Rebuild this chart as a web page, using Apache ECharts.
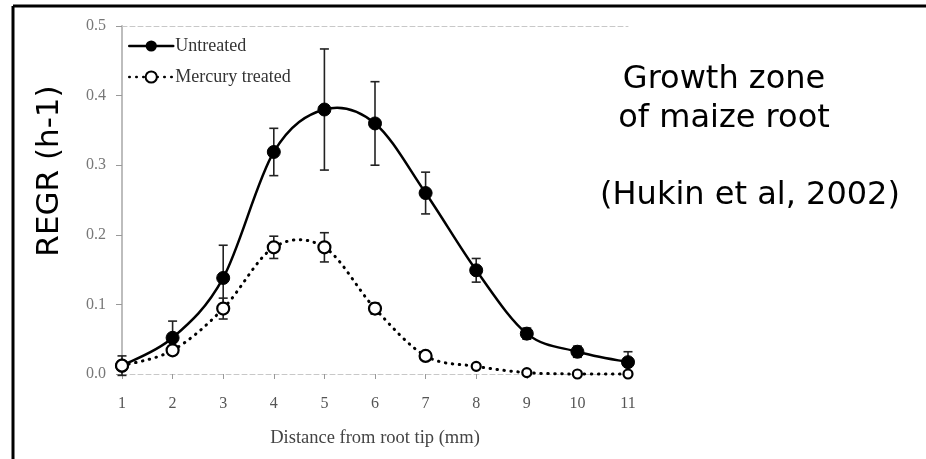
<!DOCTYPE html>
<html>
<head>
<meta charset="utf-8">
<script src="https://cdn.jsdelivr.net/npm/echarts@6/dist/echarts.min.js"></script>
<style>
  html, body { margin: 0; padding: 0; background: #fff; }
  #chart { width: 926px; height: 459px; }
</style>
</head>
<body>
<div id="chart"></div>
<script>
// Distance from root tip (mm)
const distance = [1, 2, 3, 4, 5, 6, 7, 8, 9, 10, 11];
const xTicks = [1, 2, 3, 4, 5, 6, 7, 8, 9, 10, 11];
const yTicks = [0.0, 0.1, 0.2, 0.3, 0.4, 0.5];

// Relative elemental growth rate, h-1
const untreated    = [0.012, 0.052, 0.138, 0.319, 0.380, 0.360, 0.260, 0.149, 0.058, 0.032, 0.017];
const untreatedErr = [0.014, 0.024, 0.047, 0.034, 0.087, 0.060, 0.030, 0.017, 0.008, 0.008, 0.015];
const mercury      = [0.012, 0.034, 0.094, 0.182, 0.182, 0.094, 0.026, 0.011, 0.002, 0.000, 0.000];
const mercuryErr   = [0.006, 0.006, 0.015, 0.016, 0.021, 0.008, 0.004, 0.003, 0.000, 0.000, 0.000];

const seriesNames = ['Untreated', 'Mercury treated'];
const annotations = ['Growth zone', 'of maize root', '(Hukin et al, 2002)'];
const yAxisTitle = 'REGR (h-1)';
const xAxisTitle = 'Distance from root tip (mm)';

const pairs = (ys) => distance.map((x, i) => [x, ys[i]]);
const bars = (ys, es) => distance
  .map((x, i) => [x, ys[i] - es[i], ys[i] + es[i]])
  .filter((d, i) => es[i] > 0);

const serif = '"Liberation Serif", "DejaVu Serif", serif';
const hand = '"DejaVu Sans", "Noto Sans", sans-serif';

const solidStroke  = { color: '#000', width: 2.5, type: 'solid', cap: 'round' };
const dottedStroke = { color: '#000', width: 3, type: [0.5, 6.5], cap: 'round' };

// Vertical whisker with short caps at both ends
function errorBarItem(params, api) {
  const lo = api.coord([api.value(0), api.value(1)]);
  const hi = api.coord([api.value(0), api.value(2)]);
  const cap = 4.5;
  const style = { stroke: '#222', lineWidth: 1.6 };
  return {
    type: 'group',
    children: [
      { type: 'line', shape: { x1: lo[0], y1: lo[1], x2: hi[0], y2: hi[1] }, style },
      { type: 'line', shape: { x1: lo[0] - cap, y1: lo[1], x2: lo[0] + cap, y2: lo[1] }, style },
      { type: 'line', shape: { x1: hi[0] - cap, y1: hi[1], x2: hi[0] + cap, y2: hi[1] }, style }
    ]
  };
}

// Cardinal (Catmull-Rom) spline segment from point i to i+1
function curveItem(stroke) {
  return function (params, api) {
    const n = params.dataInsideLength;
    const i = params.dataIndexInside;
    if (i >= n - 1) return null;
    const P = (k) => {
      k = Math.max(0, Math.min(n - 1, k));
      return api.coord([api.value(0, k), api.value(1, k)]);
    };
    const p0 = P(i - 1), p1 = P(i), p2 = P(i + 1), p3 = P(i + 2);
    const t = 1 / 6;
    return {
      type: 'bezierCurve',
      shape: {
        x1: p1[0], y1: p1[1], x2: p2[0], y2: p2[1],
        cpx1: p1[0] + (p2[0] - p0[0]) * t, cpy1: p1[1] + (p2[1] - p0[1]) * t,
        cpx2: p2[0] - (p3[0] - p1[0]) * t, cpy2: p2[1] - (p3[1] - p1[1]) * t
      },
      style: {
        fill: null,
        stroke: stroke.color,
        lineWidth: stroke.width,
        lineDash: stroke.type === 'solid' ? null : stroke.type,
        lineCap: stroke.cap
      }
    };
  };
}

const chart = echarts.init(document.getElementById('chart'), null, { renderer: 'canvas' });

chart.setOption({
  animation: false,
  backgroundColor: '#fff',
  grid: { left: 122, right: 298, top: 26, bottom: 85, containLabel: false },
  legend: {
    data: [
      { name: seriesNames[0], lineStyle: Object.assign({ opacity: 1 }, solidStroke) },
      { name: seriesNames[1], lineStyle: Object.assign({ opacity: 1 }, dottedStroke, { width: 2.5 }) }
    ],
    orient: 'vertical',
    left: 128,
    top: 37,
    padding: 0,
    itemWidth: 44,
    itemHeight: 14,
    itemGap: 13,
    textStyle: { fontFamily: serif, fontSize: 18, color: '#333', padding: [0, 0, 0, -3] },
    selectedMode: false
  },
  xAxis: [
    {
      type: 'value',
      min: xTicks[0],
      max: xTicks[xTicks.length - 1],
      interval: 1,
      name: xAxisTitle,
      nameLocation: 'middle',
      nameGap: 55,
      nameTextStyle: { fontFamily: serif, fontSize: 18.5, color: '#444' },
      axisLine: { show: true, onZero: false, lineStyle: { color: '#c8c8c8', type: [5, 3], width: 1 } },
      axisTick: { show: true, length: 5, lineStyle: { color: '#999' } },
      axisLabel: { margin: 22, fontFamily: serif, fontSize: 16, color: '#555' },
      splitLine: { show: false }
    },
    {
      type: 'value',
      position: 'top',
      min: xTicks[0],
      max: xTicks[xTicks.length - 1],
      axisLine: { show: true, onZero: false, lineStyle: { color: '#c8c8c8', type: [5, 3], width: 1 } },
      axisTick: { show: false },
      axisLabel: { show: false },
      splitLine: { show: false }
    }
  ],
  yAxis: {
    type: 'value',
    min: yTicks[0],
    max: yTicks[yTicks.length - 1],
    interval: 0.1,
    axisLine: { show: true, onZero: false, lineStyle: { color: '#bdbdbd', width: 2 } },
    axisTick: { show: true, length: 6, lineStyle: { color: '#999' } },
    axisLabel: {
      margin: 16,
      fontFamily: serif,
      fontSize: 16,
      color: '#777',
      formatter: (v) => v.toFixed(1)
    },
    splitLine: { show: false }
  },
  series: [
    {
      name: 'untreated-error',
      type: 'custom',
      renderItem: errorBarItem,
      data: bars(untreated, untreatedErr),
      z: 1,
      silent: true
    },
    {
      name: 'mercury-error',
      type: 'custom',
      renderItem: errorBarItem,
      data: bars(mercury, mercuryErr),
      z: 1,
      silent: true
    },
    {
      name: 'untreated-curve',
      type: 'custom',
      renderItem: curveItem(solidStroke),
      data: pairs(untreated),
      z: 2,
      silent: true
    },
    {
      name: 'mercury-curve',
      type: 'custom',
      renderItem: curveItem(dottedStroke),
      data: pairs(mercury),
      z: 2,
      silent: true
    },
    {
      name: seriesNames[0],
      type: 'line',
      data: pairs(untreated),
      symbol: 'circle',
      symbolSize: 13,
      itemStyle: { color: '#000', borderColor: '#000' },
      lineStyle: { opacity: 0 },
      z: 3
    },
    {
      name: seriesNames[1],
      type: 'line',
      data: pairs(mercury),
      symbol: 'circle',
      symbolSize: (v, p) => (p.dataIndex >= 7 ? 9 : 12),
      itemStyle: { color: '#fff', borderColor: '#000', borderWidth: 2.2 },
      lineStyle: { opacity: 0 },
      z: 4
    }
  ],
  graphic: [
    // frame
    { type: 'line', shape: { x1: 13, y1: 6, x2: 926, y2: 6 }, style: { stroke: '#000', lineWidth: 3 } },
    { type: 'line', shape: { x1: 13, y1: 6, x2: 13, y2: 459 }, style: { stroke: '#000', lineWidth: 3 } },
    // y-axis title
    {
      type: 'text', x: 50, y: 171, rotation: Math.PI / 2,
      style: { text: yAxisTitle, fontFamily: hand, fontSize: 31, fill: '#000', align: 'center', verticalAlign: 'middle' }
    },
    {
      type: 'text', x: 724, y: 80,
      style: { text: annotations[0], fontFamily: hand, fontSize: 32, fill: '#000', align: 'center', verticalAlign: 'middle' }
    },
    {
      type: 'text', x: 724, y: 119,
      style: { text: annotations[1], fontFamily: hand, fontSize: 32, fill: '#000', align: 'center', verticalAlign: 'middle' }
    },
    {
      type: 'text', x: 750, y: 196,
      style: { text: annotations[2], fontFamily: hand, fontSize: 32, fill: '#000', align: 'center', verticalAlign: 'middle' }
    }
  ]
});
</script>
</body>
</html>
